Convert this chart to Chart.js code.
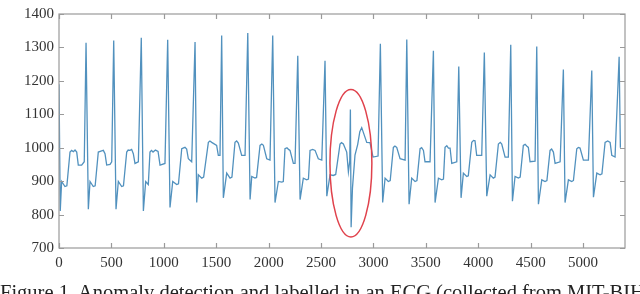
<!DOCTYPE html>
<html>
<head>
<meta charset="utf-8">
<script src="https://cdn.jsdelivr.net/npm/chart.js@4/dist/chart.umd.min.js"></script>
<style>
    html, body { margin: 0; padding: 0; background: #fff; overflow: hidden; }
    #wrap { position: relative; width: 640px; height: 294px; overflow: hidden; }
    #legenda {
        position: absolute; left: 0; top: 281px;
        font-family: "Liberation Serif", serif; font-size: 20.5px; color: #222;
        white-space: nowrap; line-height: 1.15;
    }
</style>
</head>
<body>
<div id="wrap">
    <canvas id="graficoEcg" width="640" height="294"></canvas>
    <div id="legenda">Figure 1. Anomaly detection and labelled in an ECG (collected from MIT-BIH</div>
</div>
<script>
// amostras (eixo x) e amplitude do sinal
const amostras = [
    0, 12, 25, 57, 75, 105, 121, 137, 153, 169, 184, 216, 241,
    258, 280, 296, 327, 345, 375, 400, 423, 439, 455, 487, 503,
    522, 544, 566, 598, 615, 646, 660, 677, 693, 709, 725, 757,
    785, 805, 827, 852, 868, 882, 897, 920, 945, 964, 1011,
    1037, 1059, 1085, 1123, 1140, 1171, 1202, 1218, 1234, 1266,
    1298, 1314, 1329, 1362, 1380, 1425, 1440, 1457, 1504, 1520, 1536,
    1552, 1568, 1600, 1632, 1650, 1679, 1695, 1711, 1743, 1775,
    1801, 1823, 1839, 1870, 1885, 1918, 1935, 1950, 1982, 2013,
    2039, 2061, 2093, 2125, 2140, 2156, 2175, 2190, 2204, 2236, 2252,
    2278, 2300, 2331, 2363, 2380, 2395, 2420, 2443, 2474, 2507,
    2538, 2555, 2586, 2617, 2640, 2681, 2695, 2713, 2745, 2761, 2774,
    2780, 2787, 2800, 2824, 2850, 2870, 2888, 2910, 2936, 2967, 2996, 3044,
    3066, 3088, 3111, 3142, 3160, 3190, 3205, 3222, 3254, 3302,
    3318, 3340, 3365, 3397, 3415, 3445, 3460, 3477, 3492, 3540,
    3572, 3588, 3620, 3652, 3668, 3683, 3700, 3715, 3731, 3747, 3795,
    3814, 3836, 3858, 3890, 3905, 3938, 3955, 3969, 3985, 4033,
    4058, 4081, 4113, 4144, 4160, 4192, 4210, 4224, 4256, 4287,
    4310, 4326, 4351, 4383, 4400, 4430, 4447, 4462, 4478, 4494, 4542,
    4558, 4574, 4606, 4637, 4655, 4685, 4700, 4717, 4733, 4781,
    4812, 4828, 4860, 4892, 4908, 4940, 4955, 4971, 5003, 5051,
    5083, 5099, 5131, 5162, 5180, 5210, 5235, 5258, 5274, 5305,
    5344, 5356
];
const amplitude = [
    1190, 811, 899, 884, 886, 987, 992, 988, 993, 987, 948, 948, 958,
    1314, 816, 899, 884, 886, 987, 990, 992, 982, 948, 950, 958,
    1321, 816, 899, 884, 886, 987, 993, 992, 995, 982, 953, 958,
    1329, 811, 899, 890, 987, 992, 987, 993, 989, 948, 953,
    1323, 821, 899, 890, 892, 997, 1001, 996, 967, 958,
    1316, 836, 919, 909, 912, 1016, 1020, 1016, 1007, 977, 977,
    1336, 850, 924, 909, 912, 1016, 1020, 1014, 977, 977,
    1343, 845, 914, 909, 911, 1007, 1011, 1007, 967, 963,
    1336, 836, 899, 897, 899, 997, 1000, 995, 992, 953, 953,
    1275, 845, 909, 904, 906, 992, 995, 992, 967, 963,
    1260, 855, 919, 917, 920, 1011, 1015, 1011, 987, 928, 960,
    1114, 762, 880, 978, 1010, 1048, 1060, 1040, 1016, 1015, 972, 975,
    1311, 836, 909, 899, 902, 1001, 1005, 1001, 967, 963,
    1324, 831, 909, 899, 902, 997, 1000, 992, 958, 958,
    1290, 836, 909, 904, 906, 1001, 1006, 999, 999, 953, 958,
    1243, 850, 924, 914, 916, 1016, 1022, 1021, 977, 977,
    1285, 855, 919, 909, 912, 1011, 1016, 1011, 972, 972,
    1308, 840, 914, 909, 912, 1007, 1010, 1005, 1001, 958, 960,
    1303, 831, 904, 899, 902, 992, 996, 987, 953, 958,
    1234, 836, 904, 899, 902, 997, 1001, 999, 963, 963,
    1231, 852, 924, 919, 922, 1016, 1020, 1016, 977, 972,
    1272, 1000
];
const ticksX = [0, 500, 1000, 1500, 2000, 2500, 3000, 3500, 4000, 4500, 5000];
const ticksY = [700, 800, 900, 1000, 1100, 1200, 1300, 1400];

// regiao da anomalia marcada com a elipse vermelha
const anomaliaX = [2585, 2985];
const anomaliaY = [733, 1174];

const pontos = amostras.map((x, i) => ({ x: x, y: amplitude[i] }));

const corEixo = '#9a9a9a';

const caixaPlugin = {
    id: 'caixa',
    afterDatasetsDraw(chart) {
        const { ctx, chartArea: a, scales } = chart;
        ctx.save();
        ctx.strokeStyle = corEixo;
        ctx.lineWidth = 1.2;
        ctx.strokeRect(a.left, a.top, a.right - a.left, a.bottom - a.top);
        ctx.beginPath();
        ticksX.forEach(v => {
            const px = Math.round(scales.x.getPixelForValue(v)) + 0.5;
            ctx.moveTo(px, a.bottom); ctx.lineTo(px, a.bottom - 5);
            ctx.moveTo(px, a.top); ctx.lineTo(px, a.top + 5);
        });
        ticksY.forEach(v => {
            const py = Math.round(scales.y.getPixelForValue(v)) + 0.5;
            ctx.moveTo(a.left, py); ctx.lineTo(a.left + 5, py);
            ctx.moveTo(a.right, py); ctx.lineTo(a.right - 5, py);
        });
        ctx.stroke();
        ctx.restore();
    }
};

const elipsePlugin = {
    id: 'elipse',
    afterDatasetsDraw(chart) {
        const { ctx, scales } = chart;
        const x0 = scales.x.getPixelForValue(anomaliaX[0]);
        const x1 = scales.x.getPixelForValue(anomaliaX[1]);
        const y0 = scales.y.getPixelForValue(anomaliaY[0]);
        const y1 = scales.y.getPixelForValue(anomaliaY[1]);
        ctx.save();
        ctx.strokeStyle = '#e0424c';
        ctx.lineWidth = 1.5;
        ctx.beginPath();
        ctx.ellipse((x0 + x1) / 2, (y0 + y1) / 2, Math.abs(x1 - x0) / 2, Math.abs(y0 - y1) / 2, 0, 0, Math.PI * 2);
        ctx.stroke();
        ctx.restore();
    }
};

const fonteEixo = { family: '"Liberation Serif", serif', size: 15 };
const semSeparador = v => String(v);

new Chart(document.getElementById('graficoEcg').getContext('2d'), {
    type: 'line',
    data: {
        datasets: [{
            data: pontos,
            borderColor: '#5191be',
            borderWidth: 1.3,
            pointRadius: 0,
            tension: 0,
            fill: false
        }]
    },
    options: {
        responsive: false,
        animation: false,
        layout: { padding: { left: 0, right: 15, top: 9, bottom: 0 } },
        plugins: {
            legend: { display: false },
            tooltip: { enabled: false }
        },
        scales: {
            x: {
                type: 'linear',
                min: 0,
                max: 5400,
                afterBuildTicks: s => { s.ticks = ticksX.map(v => ({ value: v })); },
                afterFit: s => { s.height = 46; },
                grid: { display: false, drawTicks: false },
                border: { display: false },
                ticks: { font: fonteEixo, color: '#333', padding: 6, maxRotation: 0, autoSkip: false, callback: semSeparador }
            },
            y: {
                min: 700,
                max: 1400,
                afterBuildTicks: s => { s.ticks = ticksY.map(v => ({ value: v })); },
                afterFit: s => { s.width = 59; },
                grid: { display: false, drawTicks: false },
                border: { display: false },
                ticks: { font: fonteEixo, color: '#333', padding: 5, autoSkip: false, callback: semSeparador }
            }
        }
    },
    plugins: [caixaPlugin, elipsePlugin]
});
</script>
</body>
</html>
